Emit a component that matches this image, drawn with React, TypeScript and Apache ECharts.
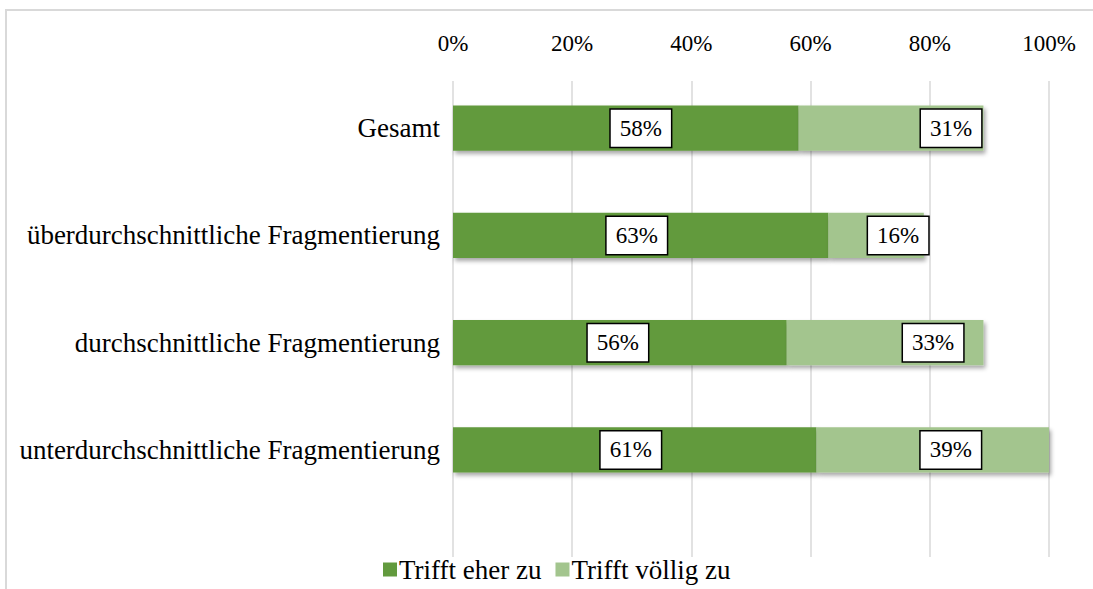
import React, { useEffect, useRef } from "react";
import * as echarts from "echarts";

const categories = [
  "Gesamt",
  "überdurchschnittliche Fragmentierung",
  "durchschnittliche Fragmentierung",
  "unterdurchschnittliche Fragmentierung",
];
const seriesNames = ["Trifft eher zu", "Trifft völlig zu"];
const eherZu = [58, 63, 56, 61];
const voelligZu = [31, 16, 33, 39];
const tickLabels = ["0%", "20%", "40%", "60%", "80%", "100%"];

// label nudges (style only)
const darkShift = [15, -4, -2, -4];
const lightShift = [60, 22, 48, 18];

const FONT = "'Liberation Serif', 'Times New Roman', serif";
const DARK = "#629a3e";
const LIGHT = "#a3c58e";

export default function App() {
  const ref = useRef<HTMLDivElement>(null);
  useEffect(() => {
    document.body.style.margin = "0";
    const chart = echarts.init(ref.current!, null, { renderer: "svg" });
    const labelBox = {
      show: true,
      formatter: (p: any) => `${p.value}%`,
      color: "#000",
      fontFamily: FONT,
      fontSize: 23,
      backgroundColor: "#fff",
      borderColor: "#000",
      borderWidth: 1.5,
      padding: [8, 9, 6, 9],
    };
    const shadow = {
      shadowBlur: 4,
      shadowColor: "rgba(0,0,0,0.35)",
      shadowOffsetX: 2,
      shadowOffsetY: 3,
    };
    const L = 453;
    const R = 44;
    chart.setOption({
      animation: false,
      textStyle: { fontFamily: FONT },
      graphic: [
        {
          type: "rect",
          shape: { x: 6, y: 10, width: 1200, height: 700 },
          style: { fill: "none", stroke: "#d9d9d9", lineWidth: 2 },
          silent: true,
          z: -10,
        },
      ],
      legend: {
        top: 556,
        left: 383,
        padding: 0,
        itemWidth: 14,
        itemHeight: 14,
        itemGap: 14,
        icon: "rect",
        textStyle: { fontFamily: FONT, fontSize: 27, color: "#000", padding: [0, 0, 0, -3] },
        data: seriesNames,
      },
      grid: [
        { left: L, right: R, top: 74.5, bottom: 85.5 },
        { left: L, right: R, top: 81, bottom: 32 },
      ],
      xAxis: [
        {
          gridIndex: 0,
          type: "value",
          min: 0,
          max: 100,
          interval: 20,
          show: false,
        },
        {
          gridIndex: 1,
          type: "value",
          position: "top",
          min: 0,
          max: 100,
          interval: 20,
          axisLine: { show: false },
          axisTick: { show: false },
          splitLine: { lineStyle: { color: "#d9d9d9", width: 1.5 } },
          axisLabel: {
            formatter: (v: number) => tickLabels[Math.round(v / 20)],
            fontFamily: FONT,
            fontSize: 23,
            color: "#000",
            margin: 26,
          },
        },
      ],
      yAxis: [
        {
          gridIndex: 0,
          type: "category",
          inverse: true,
          data: categories,
          axisLine: { show: false },
          axisTick: { show: false },
          axisLabel: {
            fontFamily: FONT,
            fontSize: 27,
            color: "#000",
            margin: 13,
          },
        },
        {
          gridIndex: 1,
          type: "value",
          show: false,
        },
      ],
      series: [
        {
          name: seriesNames[0],
          type: "bar",
          stack: "s",
          barWidth: "42%",
          xAxisIndex: 0,
          yAxisIndex: 0,
          itemStyle: { color: DARK, ...shadow },
          label: { ...labelBox, position: "inside" },
          data: eherZu.map((v, i) => ({
            value: v,
            label: { offset: [darkShift[i], 0] },
          })),
        },
        {
          name: seriesNames[1],
          type: "bar",
          stack: "s",
          xAxisIndex: 0,
          yAxisIndex: 0,
          itemStyle: { color: LIGHT, ...shadow },
          label: { ...labelBox, position: "inside" },
          data: voelligZu.map((v, i) => ({
            value: v,
            label: { offset: [lightShift[i], 0] },
          })),
        },
      ],
    });
    return () => chart.dispose();
  }, []);
  return <div ref={ref} style={{ width: 1093, height: 589 }} />;
}
